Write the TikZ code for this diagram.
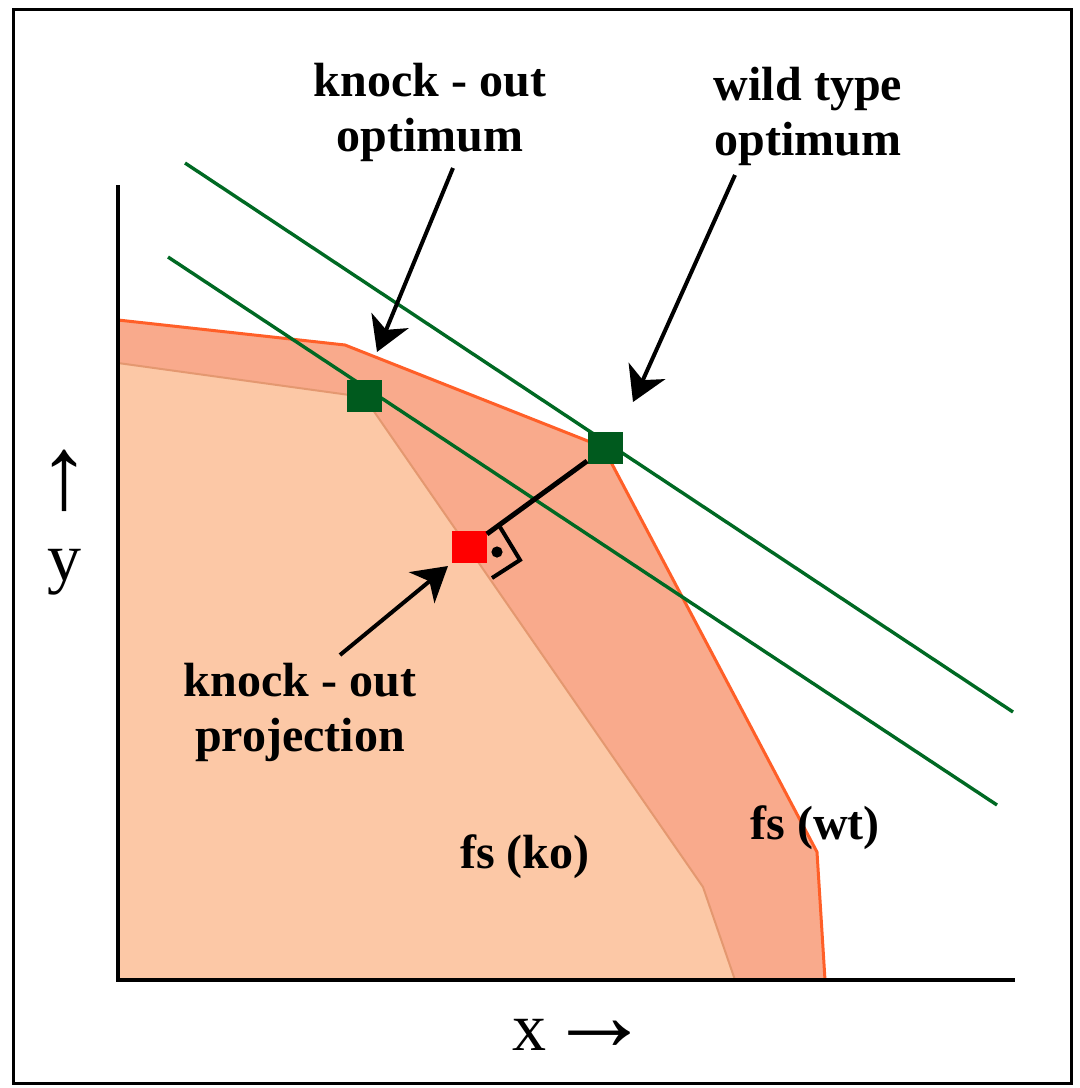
\documentclass[tikz,border=0pt]{standalone}
\usepackage{fontspec}
\setmainfont{Liberation Serif}
\usetikzlibrary{arrows.meta}
\definecolor{wtfill}{RGB}{249,170,140}
\definecolor{kofill}{RGB}{252,200,166}
\definecolor{wtedge}{RGB}{255,95,40}
\definecolor{koedge}{RGB}{228,152,112}
\definecolor{objgreen}{RGB}{0,105,35}
\definecolor{sqgreen}{RGB}{0,90,30}
\newcommand\bigarr[1]{{\fontsize{52}{52}\selectfont #1}}
\begin{document}
\begin{tikzpicture}[x=0.5pt,y=-0.5pt,
  lab/.style={font=\fontsize{24}{27.5}\selectfont\bfseries,align=center,inner sep=0pt},
  axlab/.style={font=\fontsize{34}{36}\selectfont,align=center,inner sep=0pt},
  optsq/.style={fill=sqgreen,minimum width=17.5pt,minimum height=16pt,inner sep=0pt},
  ptr/.style={line width=2pt,-{Stealth[length=17pt,width=20pt,inset=5pt]}},
  obj/.style={objgreen,line width=1.7pt}]
  \useasboundingbox (0,0) rectangle (1080,1088);
  \draw[line width=1.5pt] (13,9) rectangle (1071,1083);
  % feasible sets
  \fill[wtfill] (118,320) -- (345,345) -- (603,447) -- (817,852) -- (825,980) -- (118,980) -- cycle;
  \draw[wtedge,line width=1.5pt] (118,320) -- (345,345) -- (603,447) -- (817,852) -- (825,980);
  \fill[kofill] (118,363) -- (364,397) -- (703,887) -- (735,980) -- (118,980) -- cycle;
  \draw[koedge,line width=1pt] (118,363) -- (364,397) -- (703,887) -- (735,980);
  % axes
  \draw[line width=2pt] (118,185) -- (118,980) -- (1015,980);
  % objective lines
  \draw[obj] (185,163) -- (1013,712);
  \draw[obj] (168,257) -- (997,805);
  % optima
  \node[optsq] (koopt) at (364,396) {};
  \node[optsq] (wtopt) at (605,448) {};
  \node[optsq,fill=red] (koprj) at (469,547) {};
  \draw[line width=2.5pt] (wtopt) -- (koprj);
  \draw[line width=2pt] ([shift={(31,-20)}]koprj.center) -- ++(20,33) -- ++(-28,18);
  \fill ([shift={(28,5)}]koprj.center) circle (2.8pt);
  % labels
  \node[lab] (kolab) at (430,112) {knock - out\\optimum};
  \node[lab] (wtlab) at (808,116) {wild type\\optimum};
  \node[lab] (prjlab) at (300,712) {knock - out\\projection};
  \node[lab] (fsko) at (525,857) {fs (ko)};
  \node[lab] (fswt) at (815,828) {fs (wt)};
  \draw[ptr] ([shift={(23,56)}]kolab.center) -- ([shift={(13,-44)}]koopt.center);
  \draw[ptr] ([shift={(-73,59)}]wtlab.center) -- ([shift={(28,-46)}]wtopt.center);
  \draw[ptr] ([shift={(40,-57)}]prjlab.center) -- ([shift={(-21,19)}]koprj.center);
  \node[axlab,anchor=base] (xlab) at (582,1050) {x\hspace{0.5pt}\bigarr{→}};
  \node[axlab,anchor=base] (ylab) at (65,580) {\bigarr{↑}\\y};
\end{tikzpicture}
\end{document}
